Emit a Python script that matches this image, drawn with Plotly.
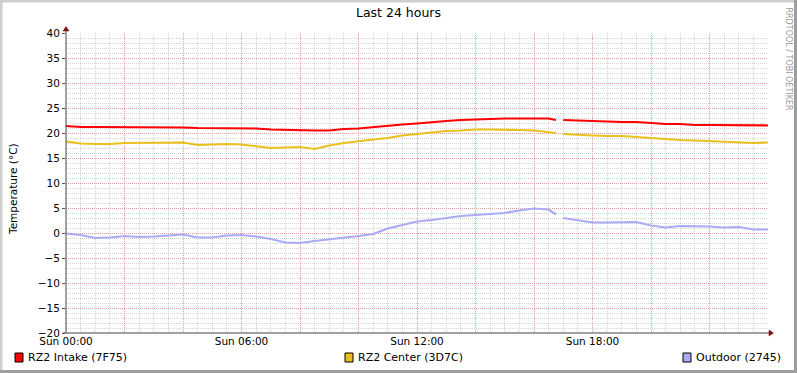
import plotly.graph_objects as go

# ---- data (hours since Sun 00:00, half-hour samples; None = data gap) ----
hours = [0, 0.5, 1, 1.5, 2, 2.5, 3, 3.5, 4, 4.5, 5, 5.5, 6, 6.5, 7, 7.5, 8, 8.5,
         9, 9.5, 10, 10.5, 11, 11.5, 12, 12.5, 13, 13.5, 14, 14.5, 15, 15.5, 16,
         16.5, 16.75, 16.85, 17, 17.5, 18, 18.5, 19, 19.5, 20, 20.5, 21, 21.5,
         22, 22.5, 23, 23.5, 24]

intake = [21.4, 21.2, 21.2, 21.2, 21.2, 21.2, 21.2, 21.2, 21.1, 21.0, 21.0, 20.9,
          20.9, 20.9, 20.7, 20.6, 20.5, 20.5, 20.5, 20.8, 20.9, 21.2, 21.5, 21.7,
          21.9, 22.2, 22.4, 22.6, 22.7, 22.9, 22.9, 22.9, 22.9, 22.9, 22.6, None,
          22.6, 22.5, 22.4, 22.2, 22.2, 22.2, 22.0, 21.8, 21.8, 21.6, 21.6, 21.6,
          21.6, 21.5, 21.5]

center = [18.3, 17.9, 17.8, 17.8, 18.0, 18.0, 18.0, 18.0, 18.1, 17.6, 17.7, 17.8,
          17.7, 17.4, 17.0, 17.1, 17.2, 16.8, 17.5, 18.0, 18.4, 18.7, 19.0, 19.5,
          19.8, 20.1, 20.4, 20.5, 20.7, 20.7, 20.7, 20.6, 20.5, 20.2, 20.0, None,
          19.8, 19.6, 19.5, 19.4, 19.4, 19.2, 19.0, 18.7, 18.6, 18.5, 18.4, 18.3,
          18.2, 18.0, 18.1]

outdoor = [-0.1, -0.4, -1.0, -0.9, -0.6, -0.8, -0.7, -0.5, -0.3, -0.9, -0.9, -0.5,
           -0.4, -0.7, -1.2, -1.9, -2.0, -1.6, -1.3, -0.9, -0.6, -0.2, 0.9, 1.6,
           2.3, 2.6, 3.0, 3.4, 3.6, 3.8, 4.0, 4.5, 4.9, 4.7, 3.7, None,
           3.0, 2.6, 2.1, 2.1, 2.1, 2.2, 1.5, 1.1, 1.4, 1.4, 1.3, 1.1,
           1.2, 0.7, 0.7]

series_names = ["RZ2 Intake (7F75)", "RZ2 Center (3D7C)", "Outdoor (2745)"]
series_colors = ["#FF0000", "#EBC01E", "#AAAAF5"]

x_tick_vals = [0, 2, 4, 6, 8, 10, 12, 14, 16, 18, 20, 22]
x_tick_text = ["Sun 00:00", "", "", "Sun 06:00", "", "", "Sun 12:00", "", "",
               "Sun 18:00", "", ""]
y_tick_vals = [40, 35, 30, 25, 20, 15, 10, 5, 0, -5, -10, -15, -20]

FONT = "DejaVu Sans"
L, R, T, B = 66, 29, 33, 40
PW, PH = 797 - L - R, 373 - T - B


def px(xp):
    return (xp - L) / PW


def py(yp):
    return (373 - B - yp) / PH


fig = go.Figure()
for vals, name, col in zip([intake, center, outdoor], series_names, series_colors):
    fig.add_trace(go.Scatter(x=hours, y=vals, mode="lines", name=name,
                             line=dict(color=col, width=2.2),
                             connectgaps=False, showlegend=False))

major_grid = "rgba(230,130,130,0.65)"
minor_grid = "rgba(185,185,185,0.6)"
DOT = "1px,1px"

fig.update_layout(
    width=797, height=373,
    margin=dict(l=L, r=R, t=T, b=B, autoexpand=False),
    paper_bgcolor="white", plot_bgcolor="white",
    font=dict(family=FONT, size=10, color="#000"),
    title=dict(text="Last 24 hours", x=0.5, xref="container", xanchor="center",
               y=1 - 13 / 373, yref="container", yanchor="middle",
               font=dict(family=FONT, size=12.5, color="#000")),
    xaxis=dict(range=[0, 24], tickmode="array", tickvals=x_tick_vals,
               ticktext=x_tick_text, showgrid=True, gridcolor=major_grid,
               griddash=DOT, gridwidth=1, zeroline=False, automargin=False,
               ticks="", tickfont=dict(size=10.5),
               minor=dict(dtick=0.5, tick0=0, showgrid=True, gridcolor=minor_grid,
                          griddash=DOT, gridwidth=1)),
    yaxis=dict(range=[-20, 40], tickmode="array", tickvals=y_tick_vals,
               showgrid=True, gridcolor=major_grid, griddash=DOT, gridwidth=1,
               zeroline=False, automargin=False, ticks="outside", ticklen=3,
               tickcolor="#555", tickfont=dict(size=10.5),
               minor=dict(dtick=1, tick0=0, showgrid=True, gridcolor=minor_grid,
                          griddash=DOT, gridwidth=1)),
)

# y-axis title
fig.add_annotation(text="Temperature (°C)", xref="paper", yref="paper",
                   x=px(13), y=py(189), xanchor="center", yanchor="middle",
                   textangle=-90, showarrow=False,
                   font=dict(family=FONT, size=10.5, color="#000"))

# axis lines and arrows (rrdtool style)
axis_col = "#444444"
arrow_col = "#7F1010"
fig.add_shape(type="line", xref="paper", yref="paper", x0=0, x1=0, y0=0, y1=py(30),
              line=dict(color=axis_col, width=1))
fig.add_shape(type="line", xref="paper", yref="paper", x0=px(63), x1=px(770),
              y0=0, y1=0, line=dict(color=axis_col, width=1))
fig.add_shape(type="path", xref="paper", yref="paper",
              path=f"M {px(63)},{py(31)} L {px(69)},{py(31)} L {px(66)},{py(26.5)} Z",
              fillcolor=arrow_col, line=dict(color=arrow_col, width=0.5))
fig.add_shape(type="path", xref="paper", yref="paper",
              path=f"M {px(769)},{py(330)} L {px(769)},{py(336)} L {px(773.5)},{py(333)} Z",
              fillcolor=arrow_col, line=dict(color=arrow_col, width=0.5))

# legend (justified across the bottom)
legend_x = [15, 345, 683]
for lx, name, col in zip(legend_x, series_names, series_colors):
    fig.add_shape(type="rect", xref="paper", yref="paper",
                  x0=px(lx), x1=px(lx + 8), y0=py(362), y1=py(353),
                  fillcolor=col, line=dict(color="#000", width=1))
    fig.add_annotation(text=name, xref="paper", yref="paper",
                       x=px(lx + 11), y=py(357.5),
                       xanchor="left", yanchor="middle", showarrow=False,
                       font=dict(family=FONT, size=11, color="#000"))

# watermark
fig.add_annotation(text="RRDTOOL / TOBI OETIKER", xref="paper", yref="paper",
                   x=px(788), y=py(5), xanchor="center",
                   yanchor="top", textangle=90, showarrow=False,
                   font=dict(family=FONT, size=8, color="#9a9a9a"))

# 3D-ish frame
fig.add_shape(type="line", xref="paper", yref="paper",
              x0=px(0), x1=px(797), y0=py(1), y1=py(1),
              line=dict(color="#CECECE", width=3))
fig.add_shape(type="line", xref="paper", yref="paper",
              x0=px(1), x1=px(1), y0=py(0), y1=py(373),
              line=dict(color="#CECECE", width=3))
fig.add_shape(type="line", xref="paper", yref="paper",
              x0=px(0), x1=px(797), y0=py(371.5), y1=py(371.5),
              line=dict(color="#9E9E9E", width=3))
fig.add_shape(type="line", xref="paper", yref="paper",
              x0=px(795.5), x1=px(795.5), y0=py(373), y1=py(0),
              line=dict(color="#9E9E9E", width=3))

fig.write_html("out.html", config={"displayModeBar": False},
               post_script="document.body.style.margin='0';"
                           "document.body.style.overflow='hidden';")
